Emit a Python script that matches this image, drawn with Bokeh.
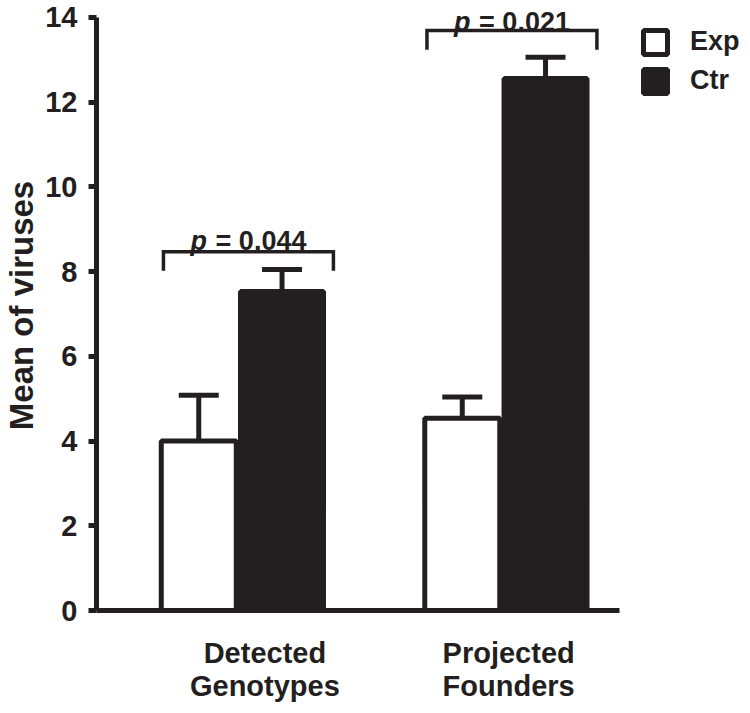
from bokeh.plotting import figure
from bokeh.models import (Range1d, FixedTicker, Whisker, TeeHead, ColumnDataSource,
                          Legend, LegendItem)
from bokeh.core.properties import value
from bokeh.embed import file_html
from bokeh.resources import INLINE

# ---- data ----
categories = ["Detected\nGenotypes", "Projected\nFounders"]
series = ["Exp", "Ctr"]
exp_means = [4.0, 4.54]
exp_errors = [1.08, 0.50]
ctr_means = [7.53, 12.56]
ctr_errors = [0.52, 0.50]
p_values = ["0.044", "0.021"]
bracket_tops = [8.47, 13.69]
y_ticks = [0, 2, 4, 6, 8, 10, 12, 14]

INK = "#231f20"
FONT = "Liberation Sans"

group_x = [1, 2]
exp_x = [g - 0.166 for g in group_x]
ctr_x = [g + 0.150 for g in group_x]
label_shift = [0.085, 0.01]
label_x = [g + s for g, s in zip(group_x, label_shift)]

p = figure(width=742, height=705, output_backend="svg", toolbar_location=None,
           x_range=Range1d(0.4459, 2.8975), y_range=Range1d(0, 14.4),
           min_border_left=96, min_border_right=0, min_border_top=0,
           min_border_bottom=93)
p.outline_line_color = None
p.xgrid.visible = False
p.ygrid.visible = False
p.background_fill_color = "white"
p.border_fill_color = "white"

# bars
r_exp = p.vbar(x=exp_x, top=exp_means, bottom=0, width=0.2846,
               fill_color="white", line_color=INK, line_width=5)
r_ctr = p.vbar(x=ctr_x, top=ctr_means, bottom=0, width=0.315,
               fill_color=INK, line_color=INK, line_width=5)

# error bars (upper only)
src = ColumnDataSource(dict(
    base=exp_x + ctr_x,
    lower=exp_means + ctr_means,
    upper=[m + e for m, e in zip(exp_means, exp_errors)] +
          [m + e for m, e in zip(ctr_means, ctr_errors)],
))
wh = Whisker(source=src, base="base", lower="lower", upper="upper",
             dimension="height", line_color=INK, line_width=5,
             upper_head=TeeHead(size=40, line_color=INK, line_width=5),
             lower_head=None, level="overlay")
p.add_layout(wh)

# significance brackets
drop = 0.45
bx0 = [g - 0.300 for g in group_x]
bx1 = [g + 0.345 for g in group_x]
xs = [[a, a, b, b] for a, b in zip(bx0, bx1)]
ys = [[t - drop, t, t, t - drop] for t in bracket_tops]
p.multi_line(xs, ys, line_color=INK, line_width=3.5, line_join="miter")

cx = [(a + b) / 2 for a, b in zip(bx0, bx1)]
half_w = 58
lift = [-11, -9]
tsrc = ColumnDataSource(dict(x=cx, y=bracket_tops, dy=lift,
                             pt=["p"] * len(cx),
                             rest=["= " + v for v in p_values]))
p.text(x="x", y="y", text="pt", source=tsrc, text_align="left",
       text_baseline="alphabetic", x_offset=-half_w, y_offset="dy",
       text_font=value(FONT), text_font_style="bold italic",
       text_font_size="27px", text_color=INK)
p.text(x="x", y="y", text="rest", source=tsrc, text_align="right",
       text_baseline="alphabetic", x_offset=half_w, y_offset="dy",
       text_font=value(FONT), text_font_style="bold",
       text_font_size="27px", text_color=INK)

# x axis
xa = p.xaxis[0]
xa.ticker = FixedTicker(ticks=label_x)
xa.major_label_overrides = {lx: c for lx, c in zip(label_x, categories)}
xa.major_tick_line_color = None
xa.minor_tick_line_color = None
xa.axis_line_color = INK
xa.axis_line_width = 5
xa.bounds = (0.4459, 2.4307)
xa.major_label_text_font = FONT
xa.major_label_text_font_style = "bold"
xa.major_label_text_font_size = "29px"
xa.major_label_text_color = INK
xa.major_label_text_line_height = 1.06
xa.major_label_standoff = 20

# y axis
ya = p.yaxis[0]
ya.ticker = FixedTicker(ticks=y_ticks)
ya.bounds = (0, 14)
ya.axis_line_color = INK
ya.axis_line_width = 5
ya.major_tick_line_color = INK
ya.major_tick_line_width = 5
ya.major_tick_out = 8
ya.major_tick_in = 0
ya.minor_tick_line_color = None
ya.major_label_text_font = FONT
ya.major_label_text_font_style = "bold"
ya.major_label_text_font_size = "29px"
ya.major_label_text_color = INK
ya.major_label_standoff = 11
ya.axis_label = "Mean of viruses"
ya.axis_label_text_font = FONT
ya.axis_label_text_font_style = "bold"
ya.axis_label_text_font_size = "33px"
ya.axis_label_text_color = INK
ya.axis_label_standoff = 2

# legend
legend = Legend(items=[LegendItem(label=series[0], renderers=[r_exp]),
                       LegendItem(label=series[1], renderers=[r_ctr])],
                location=(544, 514), glyph_width=30, glyph_height=30,
                spacing=8, padding=0, margin=0, border_line_color=None,
                background_fill_alpha=0, label_standoff=20,
                label_text_font=FONT, label_text_font_style="bold",
                label_text_font_size="27px", label_text_color=INK)
p.add_layout(legend)

open("out.html", "w").write(file_html(p, INLINE))
